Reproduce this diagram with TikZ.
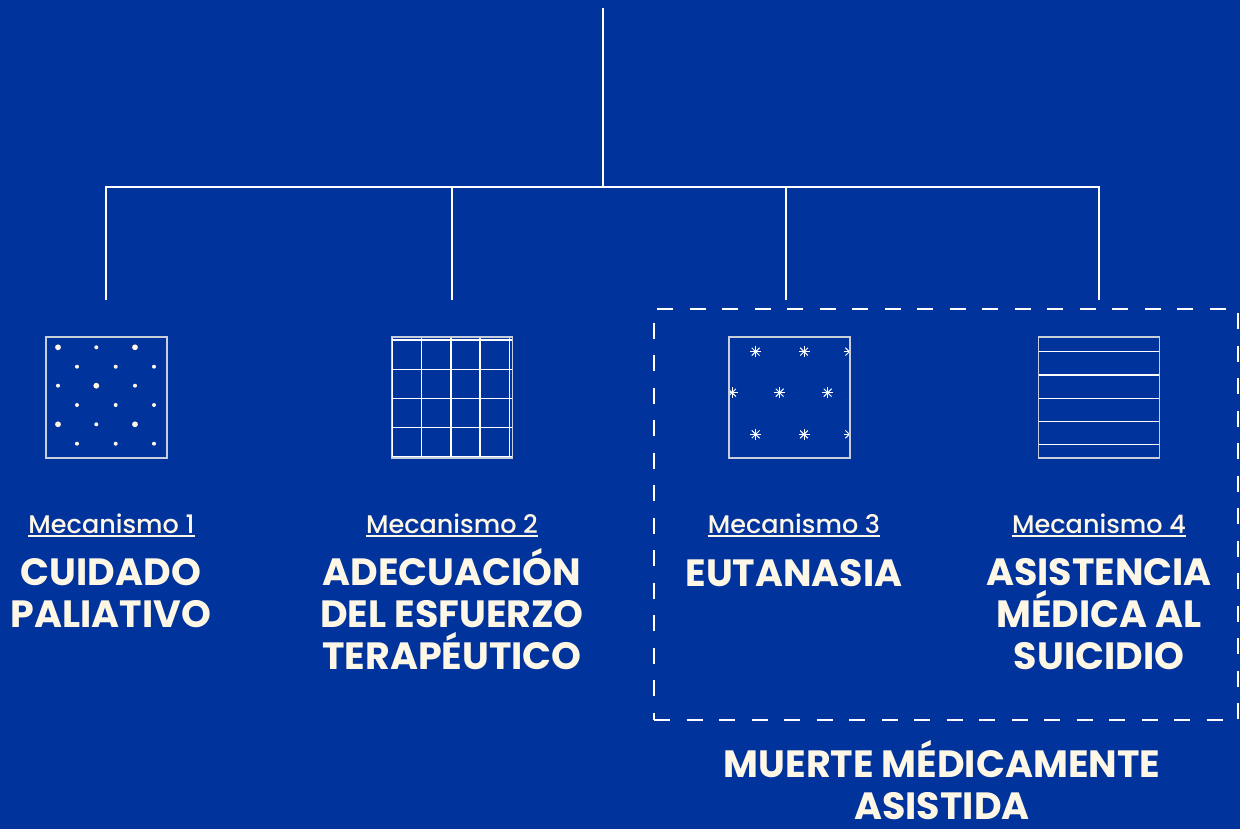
\documentclass[tikz,border=0pt]{standalone}
\usepackage{fontspec}
\setmainfont{Poppins}
\newfontfamily\mechfont{Poppins Medium}
\usetikzlibrary{positioning,calc}
\definecolor{bgblue}{HTML}{00339C}
\definecolor{cream}{HTML}{FFF7E6}
\definecolor{edge}{HTML}{C9CEDC}

\begin{document}
\begin{tikzpicture}[x=1pt,y=-1pt,
  tree/.style={draw=white,line width=2.8pt},
  icon/.style={draw=edge,line width=1.3pt,minimum size=121pt,inner sep=0pt},
  mech/.style={text=cream,font=\mechfont\fontsize{25.5}{30}\selectfont,inner sep=0pt,anchor=base},
  ttl/.style={text=cream,font=\fontsize{38}{42}\selectfont\bfseries,align=center,inner sep=0pt,anchor=base},
  ul/.style={draw=cream,line width=1.4pt},
  grpbox/.style={draw=white,line width=2.2pt,dash pattern=on 16pt off 16.5pt,minimum width=584pt,minimum height=411pt,inner sep=0pt}]
\fill[bgblue] (0,0) rectangle (1240,829);
\useasboundingbox (0,0) rectangle (1240,829);

\coordinate (root) at (603,8);
\coordinate (hub) at (603,187);
\coordinate (b1) at (106,187); \coordinate (b2) at (452,187); \coordinate (b3) at (786,187); \coordinate (b4) at (1099,187);
\coordinate (j1) at (106,300); \coordinate (j2) at (452,300); \coordinate (j3) at (786,300); \coordinate (j4) at (1099,300);
\draw[tree] (root)--(hub);
\draw[tree] (j1)--(b1)--(b4)--(j4);
\draw[tree] (b2)--(j2); \draw[tree] (b3)--(j3);

\node[icon,path picture={
  \coordinate (o) at (path picture bounding box.north west);
  \foreach \cx/\cy/\r in {12/10.3/2.9,50.3/10.3/2,89/10.3/2.9,31/29.7/2,69.7/29.7/2,108/29.7/2,12/48.7/2,50.3/48.7/2.9,89/48.7/2,31/68/2,69.7/68/2,108/68/2,12/87.3/2.9,50.3/87.3/2,89/87.3/2.9,31/106.7/2,69.7/106.7/2,108/106.7/2}
    \fill[cream] ($(o)+(\cx,\cy)$) circle (\r pt);}] (ic1) at (106.5,397.5) {};
\node[icon,path picture={
  \coordinate (o) at (path picture bounding box.north west);
  \foreach \k in {0,...,4}{
    \draw[white,line width=1.3pt] ($(o)+(1+29.2*\k,0)$) -- ++(0,121);
    \draw[white,line width=1.3pt] ($(o)+(0,3+29.2*\k)$) -- ++(121,0);}}] (ic2) at (452,397.5) {};
\node[icon,path picture={
  \coordinate (o) at (path picture bounding box.north west);
  \foreach \cx/\cy in {26.7/14.7,75/14.7,120.3/14.7,3/55.7,50.7/55.7,98.7/55.7,26.7/97.3,75/97.3,120.3/97.3}
    \foreach \a in {0,45,90,135}
      \draw[white,line width=1pt] ($(o)+(\cx,\cy)+(\a:5.5)$) -- ($(o)+(\cx,\cy)+(\a+180:5.5)$);}] (ic3) at (789.5,397.5) {};
\node[icon,path picture={
  \coordinate (o) at (path picture bounding box.north west);
  \foreach \k in {0,...,4}
    \draw[white,line width=1.1pt] ($(o)+(0,14.7+23.3*\k)$) -- ++(121,0);}] (ic4) at (1099,397.5) {};

\node[mech] (m1) at (111.5,533) {Mecanismo 1};
\node[mech] (m2) at (452,533) {Mecanismo 2};
\node[mech] (m3) at (794,533) {Mecanismo 3};
\node[mech] (m4) at (1099,533) {Mecanismo 4};
\foreach \m in {m1,m2,m3,m4}
  \draw[ul] ([yshift=-3pt]\m.base west) -- ([yshift=-3pt]\m.base east);

\node[ttl] (t1) at (111,627) {CUIDADO\\PALIATIVO};
\node[ttl] (t2) at (452,669) {ADECUACIÓN\\DEL ESFUERZO\\TERAPÉUTICO};
\node[ttl] (t3) at (794,586) {EUTANASIA};
\node[ttl] (t4) at (1099,669) {ASISTENCIA\\MÉDICA AL\\SUICIDIO};

\node[grpbox] (grp) at (946,514.5) {};
\node[ttl] (mma) at (942,819) {MUERTE MÉDICAMENTE\\ASISTIDA};
\end{tikzpicture}
\end{document}
